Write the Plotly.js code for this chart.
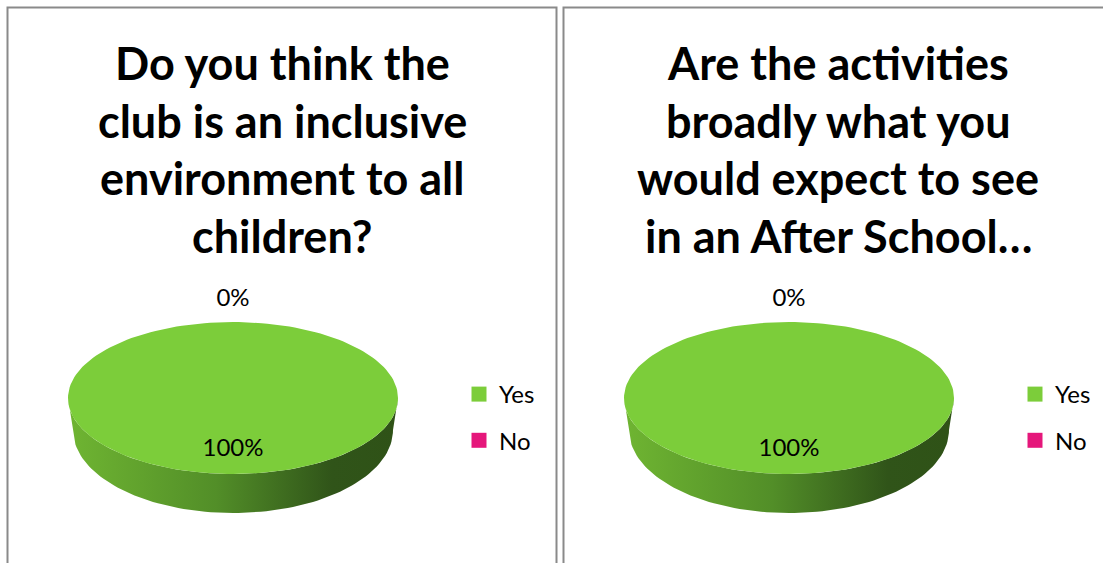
<!DOCTYPE html>
<html><head><meta charset="utf-8">
<script src="https://cdn.plot.ly/plotly-3.0.1.min.js"></script>
<style>html,body{margin:0;padding:0;background:#fff}#chart{width:1103px;height:563px}</style>
</head><body><div id="chart"></div>
<script>
// ---- data ----
const categories = ['Yes', 'No'];
const valuesInclusive = [100, 0];
const valuesActivities = [100, 0];
const titleInclusive = ['Do you think the', 'club is an inclusive', 'environment to all', 'children?'];
const titleActivities = ['Are the activities', 'broadly what you', 'would expect to see', 'in an After School\u2026'];
const sliceColors = ['#7ccd3a', '#e5177b'];

// ---- geometry / style ----
const W = 1103, H = 563;
const FONT = 'Lato, "Open Sans", sans-serif';
const panelOffset = [0, 556];
const pie = {cx: 233, cy: 398, rx: 165, ry: 76, depth: 32, rxb: 160, ryb: 83};
const titleLineY = [63, 120.5, 178, 236];
const sideScale = [[0, '#6fb532'], [0.45, '#528e28'], [0.8, '#305419'], [1, '#2f5217']];

function pt(cx, cy, rx, ry, a) {
  const r = a * Math.PI / 180;
  return [cx + rx * Math.sin(r), cy - ry * Math.cos(r)];
}
function arc(cx, cy, rx, ry, a0, a1) {
  const n = Math.max(2, Math.ceil(Math.abs(a1 - a0) / 2));
  const out = [];
  for (let i = 0; i <= n; i++) out.push(pt(cx, cy, rx, ry, a0 + (a1 - a0) * i / n));
  return out;
}

const traces = [];
const annotations = [];
const shapes = [];

function addPanel(values, title, off, legendId) {
  const cx = pie.cx + off, cy = pie.cy;
  const total = values.reduce((s, v) => s + v, 0);
  let start = 0;
  const slices = values.map((v, i) => {
    const sweep = v / total * 360;
    const s = {i, a0: start, a1: start + sweep, frac: v / total};
    start += sweep;
    return s;
  });
  // sides (front half: clock angles 90..270)
  slices.forEach(s => {
    const a0 = Math.max(s.a0, 90), a1 = Math.min(s.a1, 270);
    if (a1 - a0 <= 0) return;
    const top = arc(cx, cy, pie.rx, pie.ry, a0, a1);
    const bot = arc(cx, cy + pie.depth, pie.rxb, pie.ryb, a1, a0);
    const pts = top.concat(bot);
    pts.push(top[0]);
    traces.push({
      type: 'scatter', mode: 'lines', x: pts.map(p => p[0]), y: pts.map(p => p[1]),
      fill: 'toself', line: {width: 0},
      fillgradient: {type: 'horizontal', colorscale: sideScale},
      showlegend: false, hoverinfo: 'skip'
    });
  });
  // top surfaces
  slices.forEach(s => {
    if (s.a1 - s.a0 <= 0) return;
    const pts = [[cx, cy]].concat(arc(cx, cy, pie.rx, pie.ry, s.a0, s.a1));
    pts.push([cx, cy]);
    traces.push({
      type: 'scatter', mode: 'lines', x: pts.map(p => p[0]), y: pts.map(p => p[1]),
      fill: 'toself', fillcolor: sliceColors[s.i], line: {width: 0},
      showlegend: false, hoverinfo: 'skip'
    });
  });
  // data labels
  const lx = [], ly = [], lt = [];
  slices.forEach(s => {
    const mid = (s.a0 + s.a1) / 2;
    let p;
    if (s.frac < 0.05) p = pt(cx, cy, pie.rx + 22, pie.ry + 22, mid);
    else p = pt(cx, cy, pie.rx * 0.68, pie.ry * 0.68, mid);
    lx.push(p[0]); ly.push(p[1]); lt.push(Math.round(s.frac * 100) + '%');
  });
  traces.push({
    type: 'scatter', mode: 'text', x: lx, y: ly, text: lt,
    textposition: 'middle center', textfont: {family: FONT, size: 24, color: '#000'},
    showlegend: false, hoverinfo: 'skip'
  });
  // legend entries
  categories.forEach((c, i) => {
    traces.push({
      type: 'scatter', mode: 'markers', x: [null], y: [null], name: c,
      legend: legendId, legendgroup: legendId + c,
      marker: {symbol: 'square', size: 15, color: sliceColors[i]},
      hoverinfo: 'skip'
    });
  });
  // title
  title.forEach((line, k) => {
    annotations.push({
      xref: 'x', yref: 'y', x: 282 + off, y: titleLineY[k], text: line, showarrow: false,
      xanchor: 'center', yanchor: 'middle',
      font: {family: FONT, size: 45, weight: 700, color: '#000'}
    });
  });
  // panel border
  shapes.push({type: 'rect', xref: 'x', yref: 'y', x0: 7.5 + off, x1: 556.5 + off, y0: 7.5, y1: 620,
    line: {color: '#8a8a8a', width: 2}, fillcolor: 'rgba(0,0,0,0)', layer: 'below'});
}

addPanel(valuesInclusive, titleInclusive, panelOffset[0], 'legend');
addPanel(valuesActivities, titleActivities, panelOffset[1], 'legend2');

function legendCfg(off) {
  return {
    x: (459 + off) / W, y: 1 - 372 / H, xanchor: 'left', yanchor: 'top',
    font: {family: FONT, size: 24, color: '#000'}, traceorder: 'grouped', tracegroupgap: 12,
    itemsizing: 'trace', bgcolor: 'rgba(0,0,0,0)', borderwidth: 0
  };
}

const layout = {
  width: W, height: H, margin: {l: 0, r: 0, t: 0, b: 0},
  paper_bgcolor: '#fff', plot_bgcolor: '#fff',
  xaxis: {range: [0, W], visible: false, domain: [0, 1], fixedrange: true},
  yaxis: {range: [H, 0], visible: false, domain: [0, 1], fixedrange: true},
  showlegend: true,
  legend: legendCfg(panelOffset[0]),
  legend2: legendCfg(panelOffset[1]),
  annotations, shapes
};
Plotly.newPlot('chart', traces, layout, {staticPlot: true, displayModeBar: false});
</script></body></html>
